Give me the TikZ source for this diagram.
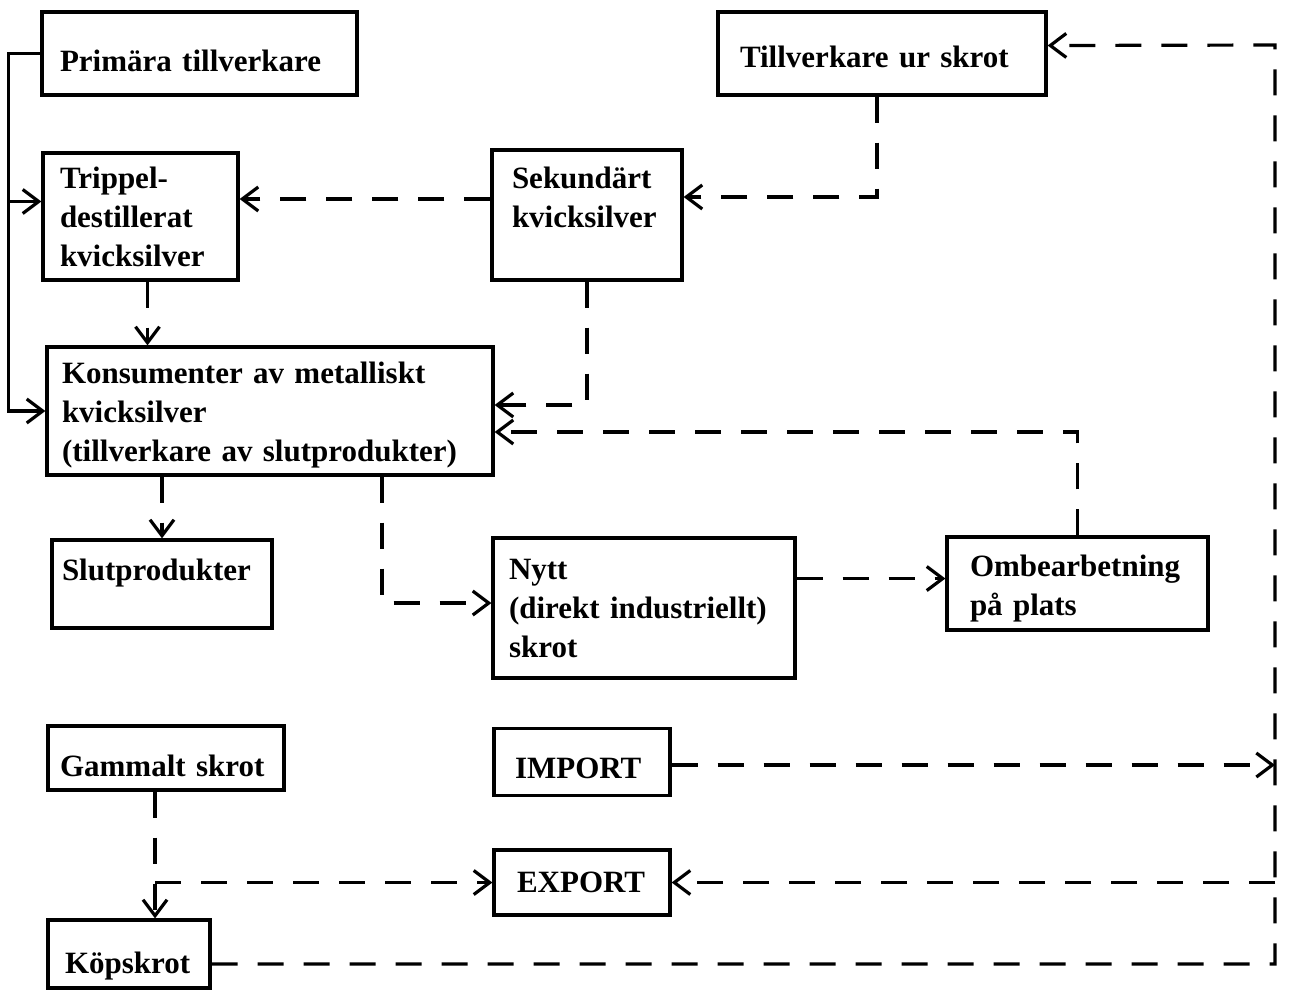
\documentclass[tikz,border=0pt]{standalone}
\usepackage{fontspec}
\setmainfont{Liberation Serif}
\usetikzlibrary{arrows.meta}

\begin{document}
\begin{tikzpicture}[x=0.5pt,y=-0.5pt,>={Straight Barb[length=8pt,width=12pt]},
  box/.style={draw,line width=1.6pt,inner sep=0pt,align=left,font=\bfseries\fontsize{15.5}{19.5}\selectfont},
  flow/.style={line width=1.6pt,dash pattern=on 13pt off 10pt},
  feed/.style={line width=1.6pt}]
\useasboundingbox (0,0) rectangle (1291,992);
\node[box,minimum width=157.5pt,minimum height=41.5pt,text width=139.5pt,text height=18.6pt] (prim) at (199.5,53.5) {Primära tillverkare};
\node[box,minimum width=97.5pt,minimum height=63.5pt,text width=80.5pt] (trip) at (140.5,216.5) {Trippel-\\destillerat\\kvicksilver};
\node[box,minimum width=223pt,minimum height=64pt,text width=208pt,text height=14.6pt] (kons) at (270,411) {Konsumenter av metalliskt\\kvicksilver\\(tillverkare av slutprodukter)};
\node[box,minimum width=95pt,minimum height=65pt,text width=75pt,text height=12.6pt] (sek) at (587,215) {Sekundärt\\kvicksilver\\\mbox{}};
\node[box,minimum width=164pt,minimum height=41.5pt,text width=142pt,text height=14.6pt] (till) at (882,53.5) {Tillverkare ur skrot};
\node[box,minimum width=110pt,minimum height=44pt,text width=100pt,text height=15.6pt] (slut) at (162,584) {Slutprodukter\\\mbox{}};
\node[box,minimum width=151pt,minimum height=70pt,text width=135pt] (nytt) at (644,608) {Nytt\\(direkt industriellt)\\skrot};
\node[box,minimum width=130.5pt,minimum height=46.5pt,text width=107.5pt,text height=15.6pt] (omb) at (1077.5,583.5) {Ombearbetning\\på plats};
\node[box,minimum width=118pt,minimum height=32pt,text width=106pt,text height=18.6pt] (gam) at (166,758) {Gammalt skrot};
\node[box,minimum width=88pt,minimum height=33.5pt,text width=67pt,text height=16.3pt] (imp) at (582,762) {IMPORT};
\node[box,minimum width=88pt,minimum height=32.5pt,text width=65pt] (exp) at (582,882.5) {EXPORT};
\node[box,minimum width=81pt,minimum height=34pt,text width=64pt,text height=22.6pt] (kop) at (129,954) {Köpskrot};
\coordinate (rail) at (1275,45);
\draw[feed,->] (prim.west) -- ++(-32,0) coordinate (spine) |- (kons.west);
\draw[feed,<-] ([yshift=7.5pt]trip.west) -- ++(-33,0);
\draw[flow,->] ([yshift=8pt]sek.west) -- ([yshift=8pt]sek.west -| trip.east);
\draw[flow,->] ([xshift=-2.5pt]till.south) |- ([yshift=9pt]sek.east);
\draw[flow,->] ([xshift=3.5pt]trip.south) -- ([xshift=3.5pt]trip.south |- kons.north);
\draw[flow,->] (sek.south) |- ([yshift=3pt]kons.east);
\draw[flow,->] (omb.north) |- ([yshift=-10.5pt]kons.east);
\draw[flow,->] (kons.south -| slut.north) -- (slut.north);
\draw[flow,->] ([xshift=56pt]kons.south) |- ([yshift=2.5pt]nytt.west);
\draw[flow,->] ([yshift=2.5pt]omb.west -| nytt.east) -- ([yshift=2.5pt]omb.west);
\draw[flow,->] ([yshift=-1.5pt]imp.east) -- ([yshift=-1.5pt]imp.east -| rail);
\draw[flow,->] ([yshift=-5pt]kop.east) -| (rail) -- ([yshift=4pt]till.east);
\draw[flow,->] (exp.east -| rail) -- (exp.east);
\draw[flow,->] ([xshift=-5.5pt]gam.south) -- ([xshift=-5.5pt]gam.south |- kop.north);
\draw[flow,->] ([xshift=-5.5pt]gam.south |- exp.west) -- (exp.west);
\end{tikzpicture}
\end{document}
